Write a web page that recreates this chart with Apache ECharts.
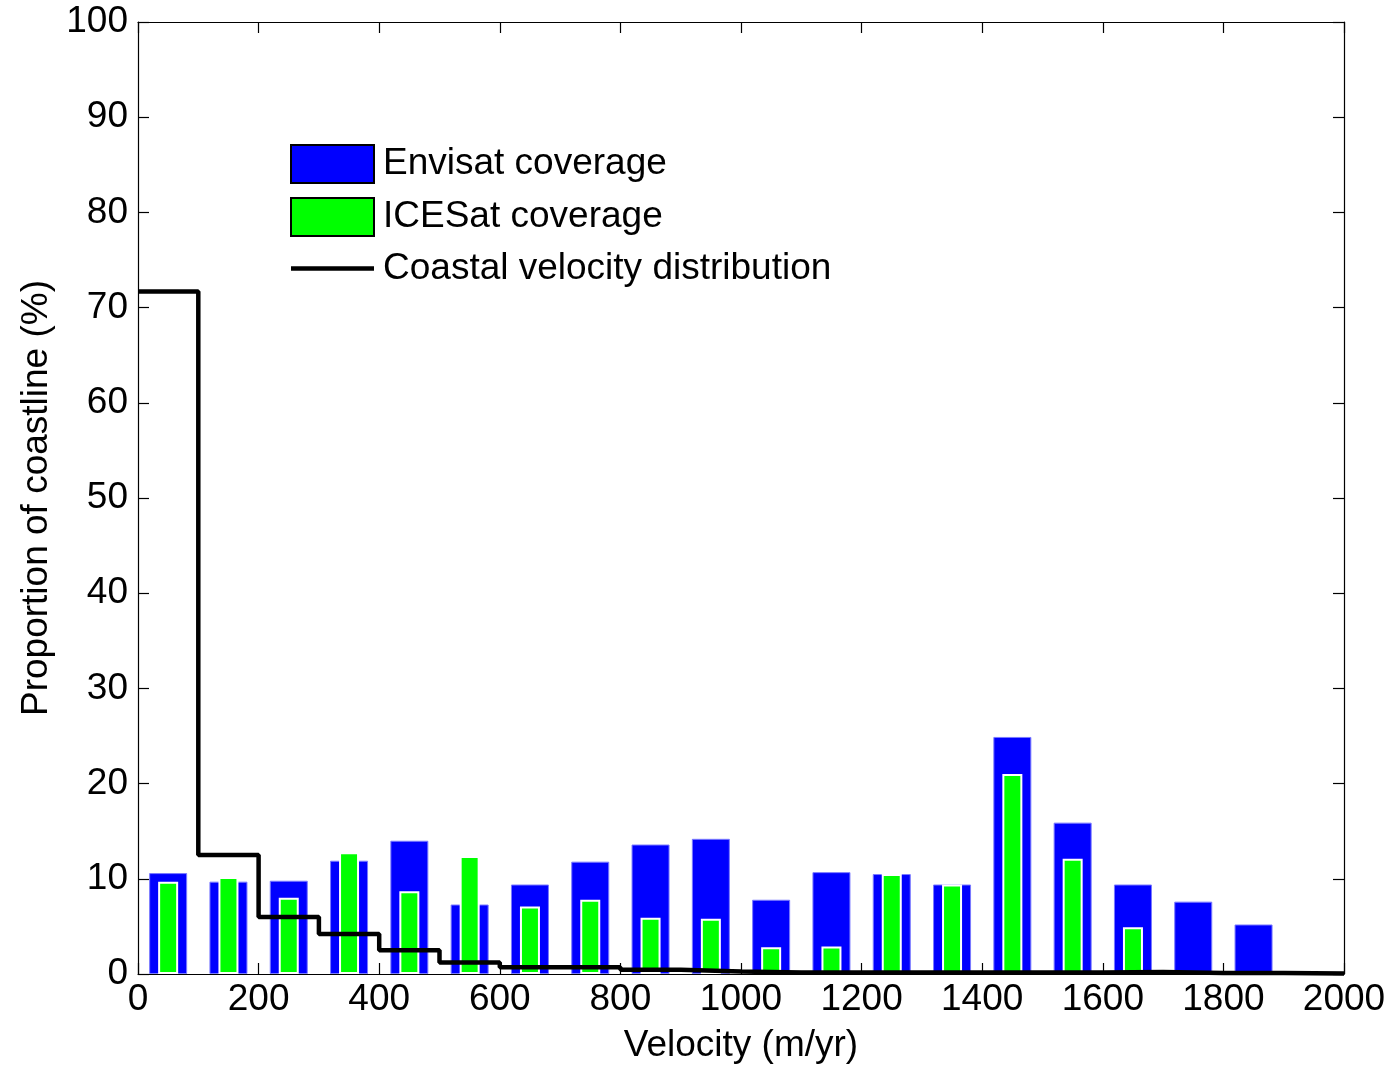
<!DOCTYPE html>
<html>
<head>
<meta charset="utf-8">
<script src="https://cdn.jsdelivr.net/npm/echarts@6/dist/echarts.min.js"></script>
<style>html,body{margin:0;padding:0;background:#fff;}#chart{width:1396px;height:1069px;}</style>
</head>
<body>
<div id="chart"></div>
<script>
// Bin centres (m/yr)
const binCenters = [50,150,250,350,450,550,650,750,850,950,1050,1150,1250,1350,1450,1550,1650,1750,1850,1950];
// Envisat coverage (%)
const envisat = [10.6,9.7,9.8,11.9,14.0,7.3,9.4,11.8,13.6,14.2,7.8,10.7,10.5,9.4,24.9,15.9,9.4,7.6,5.2,0];
// ICESat coverage (%)
const icesat = [9.7,10.2,8.0,12.8,8.7,12.4,7.1,7.8,5.9,5.8,2.8,2.9,10.5,9.4,21.0,12.1,4.9,0,0,0];
// Coastal velocity distribution: bin start edges and values (%)
const binEdges = [0,100,200,300,400,500,600,700,800,900,1000,1100,1200,1300,1400,1500,1600,1700,1800,1900,2000];
const coastal = [71.7,12.5,6.0,4.2,2.5,1.2,0.7,0.7,0.45,0.25,0.15,0.15,0.15,0.15,0.15,0.15,0.2,0.1,0.1,0.05,0.05];
const xTicks = [0,200,400,600,800,1000,1200,1400,1600,1800,2000];
const yTicks = [0,10,20,30,40,50,60,70,80,90,100];

const FONT = 'Liberation Sans, Arial, sans-serif';
const FS = 37;
const chart = echarts.init(document.getElementById('chart'));

const envData = binCenters.map((x,i)=>[x, envisat[i]]).filter(d=>d[1]>0);
const iceData = binCenters.map((x,i)=>[x, icesat[i]]).filter(d=>d[1]>0);
const lineData = binEdges.map((x,i)=>[x, coastal[i]]);

const axisCommon = {
  type: 'value',
  axisLine: {show: true, onZero: false, lineStyle: {color: '#000', width: 1.2}},
  axisTick: {show: true, inside: true, length: 11, lineStyle: {color: '#000', width: 1.2}},
  splitLine: {show: false}
};

chart.setOption({
  backgroundColor: '#fff',
  animation: false,
  textStyle: {fontFamily: FONT},
  grid: {left: 138, right: 52, top: 22, bottom: 93, containLabel: false},
  legend: {
    left: 290, top: 144, orient: 'vertical', padding: 0,
    itemWidth: 83, itemHeight: 38, itemGap: 13,
    textStyle: {fontSize: FS, color: '#000', fontFamily: FONT, padding: [0,0,0,4]},
    data: [
      {name: 'Envisat coverage', icon: 'rect', itemStyle: {color: '#0000ff', borderColor: '#000', borderWidth: 2}},
      {name: 'ICESat coverage', icon: 'rect', itemStyle: {color: '#00ff00', borderColor: '#000', borderWidth: 2}},
      {name: 'Coastal velocity distribution', icon: 'path://M0,0 L83,0 L83,4.5 L0,4.5 Z',
        itemStyle: {color: '#000', borderWidth: 0}}
    ]
  },
  xAxis: [
    Object.assign({}, axisCommon, {
      position: 'bottom', min: 0, max: 2000, interval: 200,
      axisLabel: {show: true, fontSize: FS, color: '#000', margin: 7, fontFamily: FONT,
        formatter: v => xTicks.includes(v) ? String(v) : ''},
      name: 'Velocity (m/yr)', nameLocation: 'middle', nameGap: 53,
      nameTextStyle: {fontSize: FS, color: '#000', fontFamily: FONT}
    }),
    Object.assign({}, axisCommon, {
      position: 'top', min: 0, max: 2000, interval: 200,
      axisLabel: {show: false}
    })
  ],
  yAxis: [
    Object.assign({}, axisCommon, {
      position: 'left', min: 0, max: 100, interval: 10,
      axisLabel: {show: true, fontSize: FS, color: '#000', margin: 10, fontFamily: FONT,
        formatter: v => yTicks.includes(v) ? String(v) : ''},
      name: 'Proportion of coastline (%)', nameLocation: 'middle', nameGap: 83, nameRotate: 90,
      nameTextStyle: {fontSize: FS, color: '#000', fontFamily: FONT}
    }),
    Object.assign({}, axisCommon, {
      position: 'right', min: 0, max: 100, interval: 10,
      axisLabel: {show: false}
    })
  ],
  series: [
    {
      name: 'Envisat coverage', type: 'bar', xAxisIndex: 0, yAxisIndex: 0,
      data: envData, barWidth: 38, z: 2,
      itemStyle: {color: '#0000ff', borderColor: '#7a7aff', borderWidth: 1}
    },
    {
      name: 'ICESat coverage', type: 'bar', xAxisIndex: 1, yAxisIndex: 0,
      data: iceData, barWidth: 20, z: 3,
      itemStyle: {color: '#00ff00', borderColor: '#ffffff', borderWidth: 2}
    },
    {
      name: 'Coastal velocity distribution', type: 'line', xAxisIndex: 0, yAxisIndex: 0,
      data: lineData, step: 'end', symbol: 'none', showSymbol: false, z: 5,
      lineStyle: {color: '#000', width: 4.5}, itemStyle: {color: '#000'}
    }
  ]
});
</script>
</body>
</html>
